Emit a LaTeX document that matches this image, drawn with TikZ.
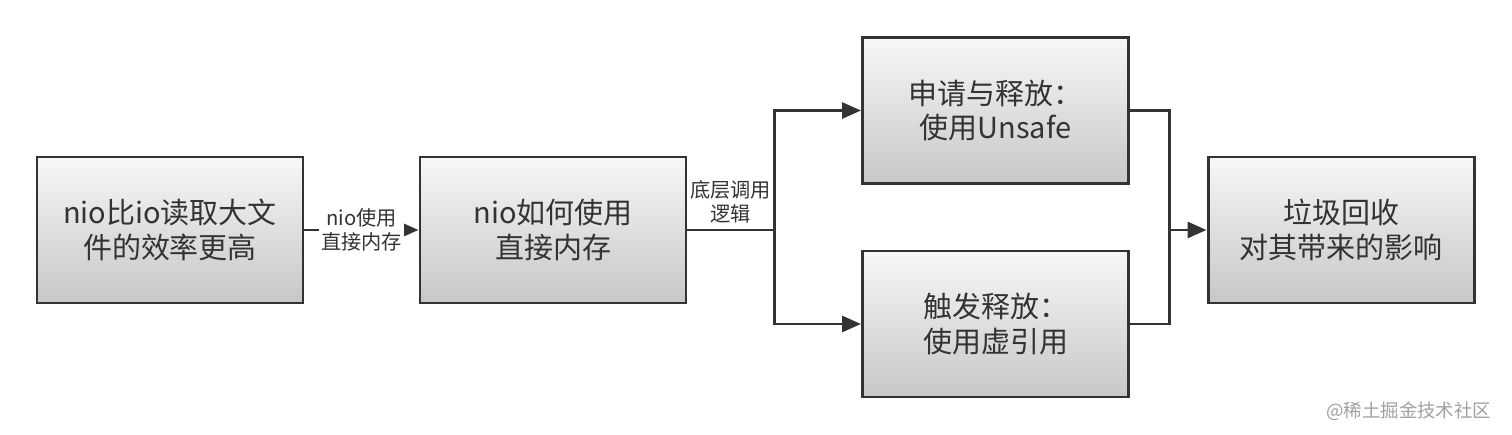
\documentclass[tikz,border=0pt]{standalone}
\usepackage{fontspec}
\setmainfont{Noto Sans CJK SC}
\usetikzlibrary{arrows.meta, positioning}
\definecolor{linegray}{RGB}{51, 51, 51}
\definecolor{markgray}{RGB}{160, 160, 160}

\tikzset{
  stagebox/.style={draw=linegray, line width=1.7pt, top color=black!3, bottom color=black!22,
    minimum width=5.32cm, minimum height=2.92cm, align=center, text=linegray,
    font=\fontsize{16.5}{19.5}\selectfont, inner sep=0pt},
  edgelabel/.style={font=\fontsize{11.5}{13.5}\selectfont, align=center, text=linegray, inner sep=1pt},
  flow/.style={draw=linegray, line width=1.7pt},
  flowarrow/.style={flow, -{Triangle[length=0.38cm, width=0.32cm]}}
}

\begin{document}
\begin{tikzpicture}
  \useasboundingbox (0,0) rectangle (30.24,-8.70);

  % main stages
  \node[stagebox] (reason) at (3.40,-4.60) {nio比io读取大文\\件的效率更高};
  \node[stagebox] (direct) at (11.06,-4.60) {nio如何使用\\直接内存};
  \node[stagebox] (unsafe) at (19.91,-2.21) {申请与释放：\\使用Unsafe};
  \node[stagebox] (phantom) at (19.91,-6.48) {触发释放：\\使用虚引用};
  \node[stagebox] (gc) at (26.82,-4.60) {垃圾回收\\对其带来的影响};

  % branch points
  \coordinate (split) at (15.48,-4.60);
  \coordinate (merge) at (23.38,-4.60);

  % connectors
  \draw[flowarrow] (reason) -- node[edgelabel, fill=white] (usage) {nio使用\\直接内存} (direct);
  \draw[flow] (direct) -- node[edgelabel, above=2pt] (logic) {底层调用\\逻辑} (split);
  \draw[flowarrow] (split) |- (unsafe);
  \draw[flowarrow] (split) |- (phantom);
  \draw[flow] (unsafe) -| (merge) |- (phantom);
  \draw[flowarrow] (merge) -- (gc);

  % watermark
  \node[font=\fontsize{10.5}{12}\selectfont, text=markgray, anchor=east] (mark) at (29.95,-8.22) {@稀土掘金技术社区};
\end{tikzpicture}
\end{document}
